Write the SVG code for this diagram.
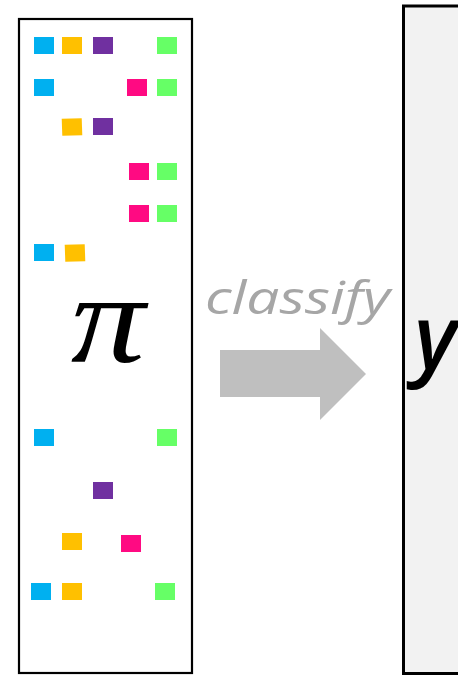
<svg xmlns="http://www.w3.org/2000/svg" width="458" height="675" viewBox="0 0 458 675">
<style>
.c{fill:#00B0F0}.o{fill:#FFC000}.p{fill:#7030A0}.g{fill:#66FF66}.m{fill:#FF0A82}
</style>
<rect width="458" height="675" fill="#fff"/>
<g id="right-box">
<rect x="403.5" y="6" width="70" height="667.5" fill="#F2F2F2" stroke="#000" stroke-width="3"/>
<text x="414" y="369" font-family="Open Sans, sans-serif" font-style="italic" font-weight="600" font-size="88" fill="#000">y</text>
</g>
<g id="left-box">
<rect x="19" y="19" width="173" height="654" fill="#fff" stroke="#000" stroke-width="2.2"/>
<rect class="c" x="34" y="37" width="20" height="17"/>
<rect class="o" x="62" y="37" width="20" height="17"/>
<rect class="p" x="93" y="37" width="20" height="17"/>
<rect class="g" x="157" y="37" width="20" height="17"/>
<rect class="c" x="34" y="79" width="20" height="17"/>
<rect class="m" x="127" y="79" width="20" height="17"/>
<rect class="g" x="157" y="79" width="20" height="17"/>
<rect class="o" x="62" y="118.5" width="20" height="17" transform="rotate(-2 72 127)"/>
<rect class="p" x="93" y="118" width="20" height="17"/>
<rect class="m" x="129" y="163" width="20" height="17"/>
<rect class="g" x="157" y="163" width="20" height="17"/>
<rect class="m" x="129" y="205" width="20" height="17"/>
<rect class="g" x="157" y="205" width="20" height="17"/>
<rect class="c" x="34" y="244" width="20" height="17"/>
<rect class="o" x="65" y="244.5" width="20" height="17" transform="rotate(-2 75 253)"/>
<text x="0" y="0" text-anchor="middle" font-family="Liberation Serif, serif" font-style="italic" font-size="128" fill="#000" transform="translate(108 362) scale(1.16 1)">π</text>
<rect class="c" x="34" y="429" width="20" height="17"/>
<rect class="g" x="157" y="429" width="20" height="17"/>
<rect class="p" x="93" y="482" width="20" height="17"/>
<rect class="o" x="62" y="533" width="20" height="17"/>
<rect class="m" x="121" y="535" width="20" height="17"/>
<rect class="c" x="31" y="583" width="20" height="17"/>
<rect class="o" x="62" y="583" width="20" height="17"/>
<rect class="g" x="155" y="583" width="20" height="17"/>
</g>
<g id="connectors">
<polygon points="220,350 320,350 320,328 366,374 320,420 320,397 220,397" fill="#BFBFBF"/>
<text x="205" y="314" font-family="Open Sans, sans-serif" font-style="italic" font-size="45" fill="#A6A6A6" textLength="185" lengthAdjust="spacingAndGlyphs">classify</text>
</g>
</svg>
